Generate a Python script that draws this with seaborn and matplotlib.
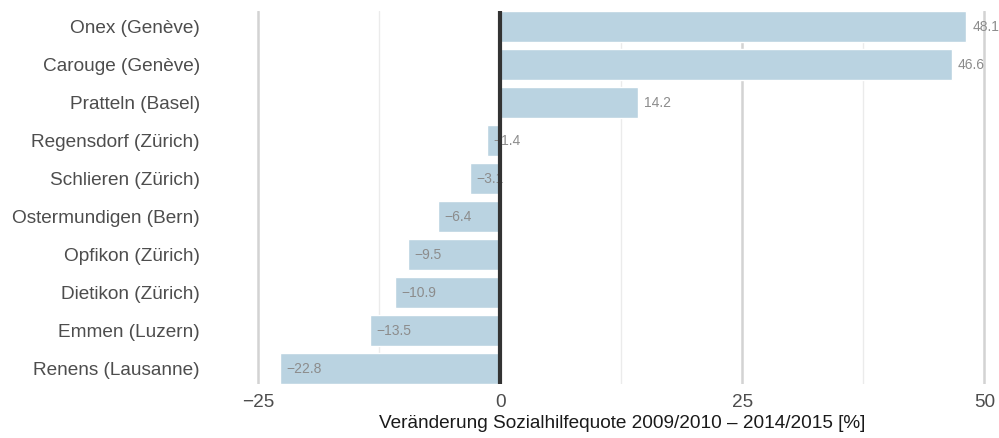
import matplotlib
matplotlib.use("Agg")
import matplotlib.pyplot as plt
import seaborn as sns
import pandas as pd

gemeinden = [
    "Onex (Genève)", "Carouge (Genève)", "Pratteln (Basel)",
    "Regensdorf (Zürich)", "Schlieren (Zürich)", "Ostermundigen (Bern)",
    "Opfikon (Zürich)", "Dietikon (Zürich)", "Emmen (Luzern)",
    "Renens (Lausanne)",
]
veraenderung = [48.1, 46.6, 14.2, -1.4, -3.1, -6.4, -9.5, -10.9, -13.5, -22.8]
x_ticks = [-25, 0, 25, 50]
x_minor = [-12.5, 12.5, 37.5]

df = pd.DataFrame({"gemeinde": gemeinden, "wert": veraenderung})

sns.set_theme(style="white")
plt.rcParams["font.family"] = ["Liberation Sans", "DejaVu Sans"]

fig = plt.figure(figsize=(9.99, 4.38), dpi=100)
ax = fig.add_axes([0.246, 0.123, 0.754, 0.852])

sns.barplot(data=df, x="wert", y="gemeinde", orient="h", color="#bad3e1",
            saturation=1, width=0.82, ax=ax)
for p in ax.patches:
    p.set_zorder(2)

# grid lines
for t in x_minor:
    ax.axvline(t, color="#ebebeb", lw=1.0, zorder=0)
for t in x_ticks:
    ax.axvline(t, color="#d3d3d3", lw=1.8, zorder=0)
ax.axvline(0, color="#333333", lw=3.0, zorder=4)

# value labels
for i, v in enumerate(veraenderung):
    ax.text(v + 0.65, i, f"{v:.1f}".replace("-", "\u2212"), ha="left",
            va="center", fontsize=10, color="#8c8c8c", zorder=3)

ax.set_xlim(-26.3, 51.5)
ax.set_ylim(len(gemeinden) - 0.59, -0.41)
ax.set_xticks(x_ticks)
ax.set_xticklabels([f"{t}".replace("-", "\u2212") for t in x_ticks])
ax.tick_params(axis="x", labelsize=13.7, colors="#4d4d4d", length=0, pad=7)
ax.tick_params(axis="y", labelsize=13.7, colors="#4d4d4d", length=0, pad=33)
for lbl in ax.get_xticklabels() + ax.get_yticklabels():
    lbl.set_color("#4d4d4d")
ax.set_ylabel("")
ax.set_xlabel("Veränderung Sozialhilfequote 2009/2010 \u2013 2014/2015 [%]",
              fontsize=13.7, color="#1a1a1a", labelpad=3)
for s in ax.spines.values():
    s.set_visible(False)
ax.grid(False)

fig.savefig("out.png", dpi=100)
